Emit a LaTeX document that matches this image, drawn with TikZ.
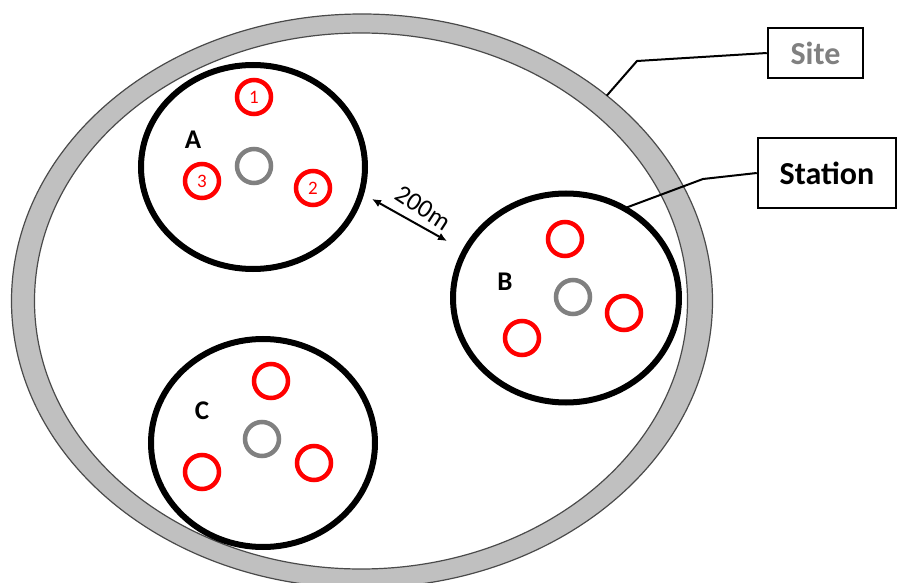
\documentclass[tikz,border=0pt]{standalone}
\usepackage{fontspec}
\setmainfont{Carlito}
\usetikzlibrary{shapes.geometric,arrows.meta}
\definecolor{ringgray}{HTML}{C0C0C0}
\definecolor{ringedge}{HTML}{4A4A4A}
\definecolor{hubgray}{HTML}{808080}
\definecolor{wellred}{HTML}{FF0000}
\begin{document}
\begin{tikzpicture}[x=1pt,y=-1pt,
  siteouter/.style={ellipse, draw=ringedge, line width=1.2pt, fill=ringgray, inner sep=0pt, outer sep=0pt},
  siteinner/.style={ellipse, draw=ringedge, line width=1.2pt, fill=white, inner sep=0pt, outer sep=0pt},
  stationring/.style={ellipse, draw=black, line width=6pt, inner sep=0pt, outer sep=0pt},
  well/.style={circle, draw=wellred, line width=4.5pt, minimum size=34pt, inner sep=0pt, outer sep=0pt,
    text=wellred, font=\fontsize{19}{20}\selectfont},
  hub/.style={circle, draw=hubgray, line width=4.5pt, minimum size=34pt, inner sep=0pt, outer sep=0pt},
  stationname/.style={font=\bfseries\fontsize{27}{30}\selectfont, text=black, inner sep=0pt},
  legendbox/.style={draw=black, line width=2.5pt, fill=white, inner sep=0pt, font=\bfseries\fontsize{32}{36}\selectfont},
  leader/.style={draw=black, line width=2pt},
  distarrow/.style={line width=2pt, {Latex[length=9pt,width=8pt]}-{Latex[length=9pt,width=8pt]}}
]
\useasboundingbox[fill=white] (0,0) rectangle (898,583);

% site ring
\node[siteouter, minimum width=701pt, minimum height=574pt] (site) at (362,301) {};
\node[siteinner, minimum width=653pt, minimum height=536pt] (siteinner) at (361,301) {};

% stations
\node[stationring, minimum width=224pt, minimum height=204pt] (A) at (253,167) {};
\node[stationring, minimum width=226pt, minimum height=209pt] (B) at (566,298) {};
\node[stationring, minimum width=224pt, minimum height=208pt] (C) at (263,443) {};

% station A
\node[stationname] (Alabel) at (193,140) {A};
\node[well] (A1) at (254,97) {1};
\node[well] (A3) at (202,181) {3};
\node[well] (A2) at (313,188) {2};
\node[hub] (Ahub) at (254,166) {};

% station B
\node[stationname] (Blabel) at (505,282) {B};
\node[well] (B1) at (565,239) {};
\node[well] (B2) at (624,313) {};
\node[well] (B3) at (522,338) {};
\node[hub] (Bhub) at (573,297) {};

% station C
\node[stationname] (Clabel) at (202,411) {C};
\node[well] (C1) at (271,381) {};
\node[well] (C3) at (202,472) {};
\node[well] (C2) at (314,463) {};
\node[hub] (Chub) at (262,439) {};

% distance arrow
\coordinate (d1) at (372,199);
\coordinate (d2) at (447,241);
\draw[distarrow] (d1) -- (d2);
\node[rotate=-33, font=\fontsize{26}{28}\selectfont, inner sep=0pt] (dist) at (423,208) {200m};

% legend boxes
\node[legendbox, text=hubgray, minimum width=95pt, minimum height=50pt] (sitebox) at (815.5,53) {Site};
\node[legendbox, text=black, minimum width=138pt, minimum height=70pt] (stationbox) at (827,173) {Station};

\coordinate (k1) at (637,61);
\coordinate (k2) at (703,179);
\draw[leader] (sitebox.west) -- (k1) -- (site.40);
\draw[leader] (stationbox.west) -- (k2) -- (B.57);
\end{tikzpicture}
\end{document}
